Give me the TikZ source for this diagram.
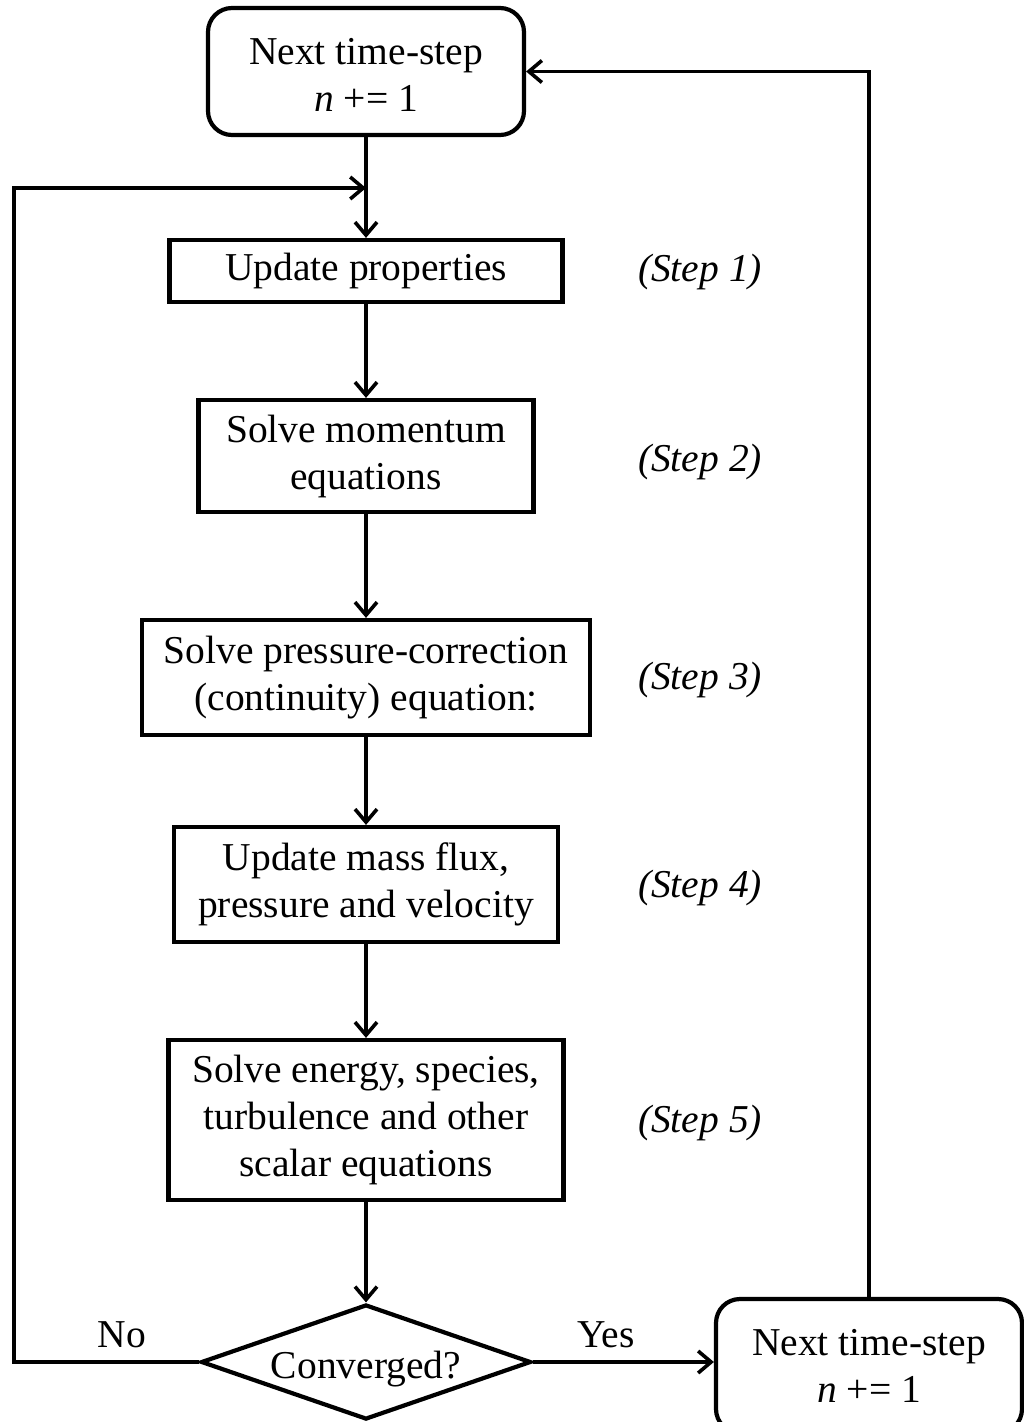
\documentclass[tikz,border=0pt]{standalone}
\usepackage{fontspec}
\setmainfont{Liberation Serif}
\usetikzlibrary{shapes.geometric,arrows.meta}
\begin{document}
\begin{tikzpicture}[x=1pt,y=-1pt,
  txt/.style={font=\fontsize{39.5}{47}\selectfont},
  box/.style={txt,draw,line width=4.2pt,rectangle,align=center,inner sep=0pt},
  rbox/.style={box,rounded corners=24pt},
  decision/.style={txt,draw,line width=4.2pt,diamond,inner sep=0pt,shape aspect=2.87},
  flow/.style={line width=3.4pt,-{Straight Barb[length=13pt,width=22pt,line width=3.6pt]}},
  steplabel/.style={txt,font=\fontsize{39.5}{47}\selectfont\itshape},
]
\clip (0,0) rectangle (1024,1422);
\node[rbox,minimum width=316pt,minimum height=127pt] (top) at (366,71.5) {\raisebox{-3pt}[\height][\depth]{Next time-step}\\\raisebox{-3pt}[\height][\depth]{\textit{n} += 1}};
\node[box,minimum width=393pt,minimum height=62pt] (upd) at (366,271) {Update properties};
\node[box,minimum width=335pt,minimum height=112pt] (mom) at (366,456) {Solve momentum\\equations};
\node[box,minimum width=448pt,minimum height=115pt] (press) at (366,677.5) {Solve pressure-correction\\(continuity) equation:};
\node[box,minimum width=384pt,minimum height=115pt] (mass) at (366,884.5) {Update mass flux,\\pressure and velocity};
\node[box,minimum width=395pt,minimum height=160pt] (energy) at (366,1120) {Solve energy, species,\\turbulence and other\\scalar equations};
\node[decision,minimum width=330pt,minimum height=115pt] (conv) at (366,1362) {\raisebox{-7pt}[\height][\depth]{Converged?}};
\node[rbox,minimum width=306pt,minimum height=134pt] (br) at (869,1366) {Next time-step\\\textit{n} += 1};

\node[steplabel] (s1) at (700,272) {(Step 1)};
\node[steplabel] (s2) at (700,462) {(Step 2)};
\node[steplabel] (s3) at (700,680) {(Step 3)};
\node[steplabel] (s4) at (700,888) {(Step 4)};
\node[steplabel] (s5) at (700,1123) {(Step 5)};

\node[txt] (no) at (122,1335) {No};
\node[txt] (yes) at (606,1335) {Yes};

\coordinate (j) at (366,188);
\coordinate (lc) at (14,1362);

\draw[flow] (top.south) -- (upd.north);
\draw[flow] (upd.south) -- (mom.north);
\draw[flow] (mom.south) -- (press.north);
\draw[flow] (press.south) -- (mass.north);
\draw[flow] (mass.south) -- (energy.north);
\draw[flow] (energy.south) -- (conv.north);
\draw[flow] (conv.west) -- (lc) |- (j);
\draw[flow] (conv.east) -- (conv.east -| br.west);
\draw[flow] (br.north) |- (top.east);
\end{tikzpicture}
\end{document}
